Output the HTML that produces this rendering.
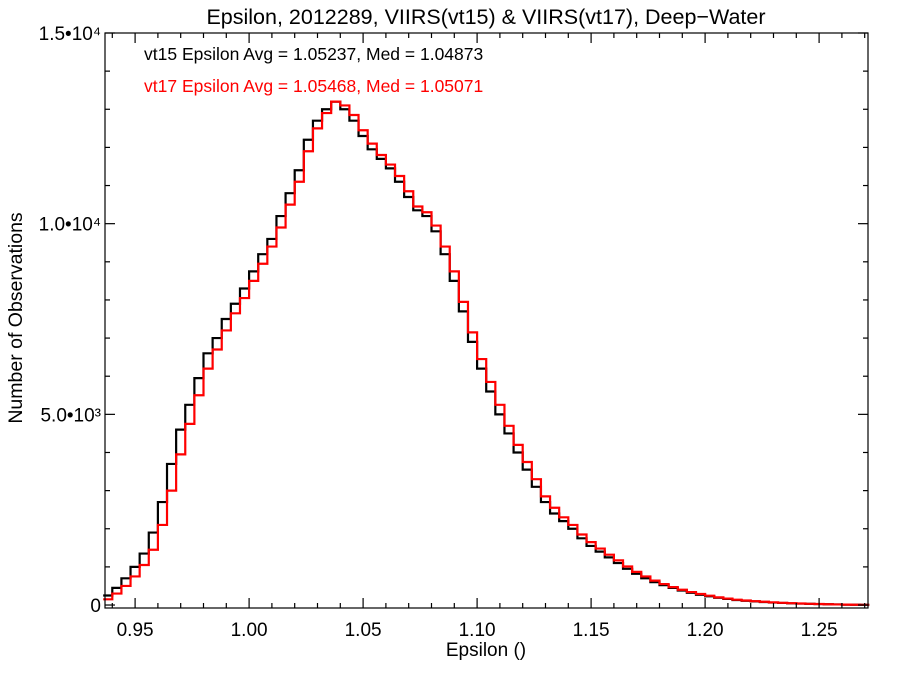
<!DOCTYPE html>
<html><head><meta charset="utf-8"><style>body{margin:0;background:#fff}svg{display:block;font-family:"Liberation Sans",Arial,sans-serif}</style></head>
<body>
<svg id="chart" width="900" height="675"></svg>
<script>
const binStart = 0.936;
const binWidth = 0.004;
const vt15Counts = [250,450,700,1000,1350,1900,2700,3700,4600,5250,5950,6600,7000,7500,7900,8300,8750,9200,9600,10200,10800,11400,12200,12700,13000,13200,13000,12700,12300,11950,11700,11450,11100,10700,10350,10200,9800,9200,8500,7700,6900,6200,5600,5000,4500,4000,3550,3100,2700,2400,2200,2000,1750,1550,1400,1250,1100,950,820,700,600,520,450,380,320,270,230,190,160,130,110,95,80,65,55,45,38,30,25,20,15,10,8,5];
const vt17Counts = [150,300,500,750,1050,1450,2100,3000,3950,4750,5500,6200,6700,7200,7650,8050,8500,8950,9400,9900,10500,11100,11900,12500,12900,13200,13100,12850,12450,12100,11800,11550,11250,10850,10450,10300,9950,9400,8750,7950,7150,6450,5850,5250,4700,4200,3750,3300,2850,2550,2300,2100,1850,1650,1480,1320,1170,1010,870,750,640,550,470,400,340,290,245,200,170,140,118,100,85,70,58,48,40,32,26,21,16,11,8,5];
const xTickLabels = ["0.95","1.00","1.05","1.10","1.15","1.20","1.25"];
const xTickValues = [0.95,1.00,1.05,1.10,1.15,1.20,1.25];
const yTickValues = [0,5000,10000,15000];
const yTickLabels = ["0","5.0•10³","1.0•10⁴","1.5•10⁴"];

const L=105,R=868,T=33,B=608;
const xMin=0.9368,xMax=0.9368+(R-L)/2280;
const yMin=-78,yMax=15000;
const X=v=>L+(v-xMin)/(xMax-xMin)*(R-L);
const Y=v=>B-(v-yMin)/(yMax-yMin)*(B-T);
const svg=document.getElementById('chart');
const NS='http://www.w3.org/2000/svg';
function mk(tag,attrs,parent){const e=document.createElementNS(NS,tag);for(const k in attrs)e.setAttribute(k,attrs[k]);(parent||svg).appendChild(e);return e;}

function series(counts,color,name){
  let d='';
  counts.forEach((c,i)=>{const x0=X(binStart+i*binWidth),x1=X(binStart+(i+1)*binWidth),y=Y(c);
    d+=(i===0?'M'+x0+','+y:'L'+x0+','+y)+'L'+x1+','+y;});
  const p=mk('path',{d:d,fill:'none',stroke:color,'stroke-width':2.2});
  
  
}
series(vt15Counts,'#000','vt15-histogram');
series(vt17Counts,'#f00','vt17-histogram');

const frame=mk('rect',{x:L,y:T,width:R-L,height:B-T,fill:'none',stroke:'#000','stroke-width':1.2});



const tk=mk('g',{stroke:'#000','stroke-width':1.2});


for(let v=0.94;v<=xMax+1e-9;v+=0.01){const vv=Math.round(v*100)/100;const x=X(vv);if(x<L||x>R)continue;
  const major=Math.abs(vv*20-Math.round(vv*20))<1e-6;const len=major?10:5;
  mk('line',{x1:x,y1:B,x2:x,y2:B-len},tk);mk('line',{x1:x,y1:T,x2:x,y2:T+len},tk);}
for(let v=0;v<=15000;v+=1000){const y=Y(v);const len=v%5000===0?10:5;
  mk('line',{x1:L,y1:y,x2:L+len,y2:y},tk);mk('line',{x1:R,y1:y,x2:R-len,y2:y},tk);}

xTickValues.forEach((v,i)=>{const t=mk('text',{x:X(v),y:B+28,'text-anchor':'middle','font-size':19});t.textContent=xTickLabels[i];
  });
yTickValues.forEach((v,i)=>{const t=mk('text',{x:L-4,y:Y(v)+7,'text-anchor':'end','font-size':19});t.textContent=yTickLabels[i];
  });
</script>
<svg width="900" height="675" style="position:absolute;left:0;top:0;font-family:'Liberation Sans',Arial,sans-serif">
<text x="486" y="24" text-anchor="middle" font-size="21.5">Epsilon, 2012289, VIIRS(vt15) &amp; VIIRS(vt17), Deep−Water</text>
<text x="144" y="60" font-size="17.5" fill="#000">vt15 Epsilon Avg = 1.05237, Med = 1.04873</text>
<text x="144" y="92" font-size="17.5" fill="#f00">vt17 Epsilon Avg = 1.05468, Med = 1.05071</text>
<text x="486" y="656" text-anchor="middle" font-size="19">Epsilon ()</text>
<text transform="translate(22,318) rotate(-90)" text-anchor="middle" font-size="19.5">Number of Observations</text>
</svg>
</body></html>
